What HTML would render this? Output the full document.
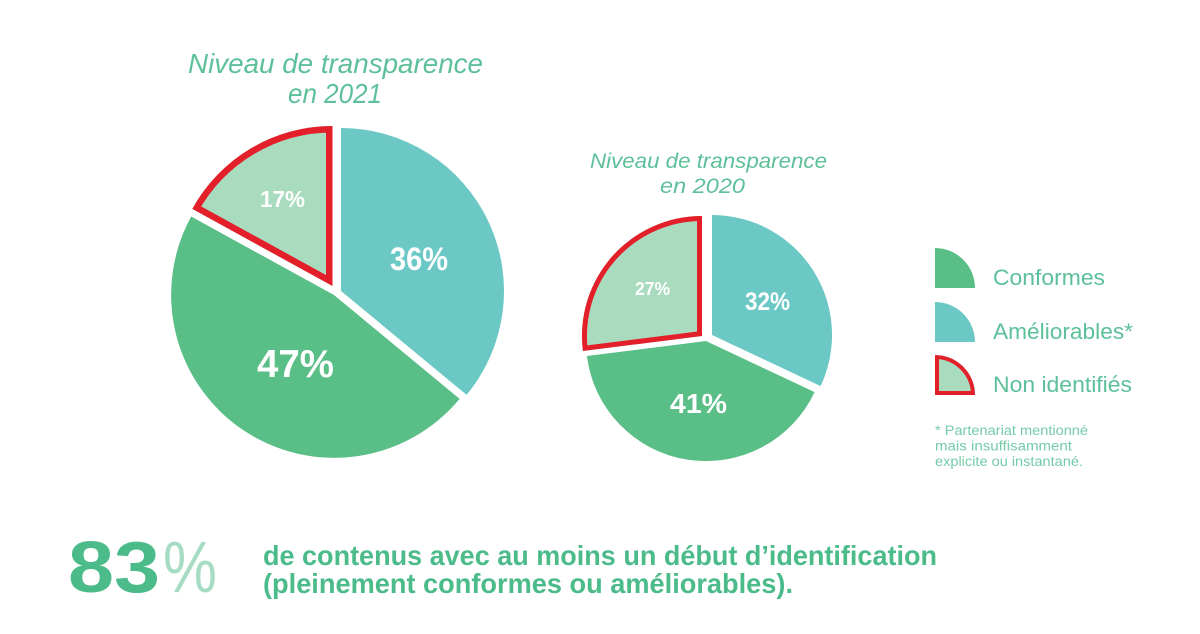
<!DOCTYPE html>
<html>
<head>
<meta charset="utf-8">
<style>
  html,body{margin:0;padding:0;background:#fff;}
  svg{display:block;}
  .t{font-family:"Liberation Sans",sans-serif;font-style:italic;fill:#5dc09a;}
  .p{font-family:"Liberation Sans Narrow","Liberation Sans",sans-serif;font-weight:bold;fill:#fff;}
  .lg{font-family:"Liberation Sans",sans-serif;fill:#5cc09a;}
  .fn{font-family:"Liberation Sans",sans-serif;fill:#74cba8;}
  .bt{font-family:"Liberation Sans Narrow","Liberation Sans",sans-serif;font-weight:bold;fill:#4cbb8a;}
</style>
</head>
<body>
<svg width="1200" height="634" viewBox="0 0 1200 634" xmlns="http://www.w3.org/2000/svg">
  <defs>
    <clipPath id="cRed1"><path d="M332.5,286 L192.3,208.9 A160,160 0 0 1 332.5,126 Z"/></clipPath>
    <clipPath id="cRed2"><path d="M702,336 L582.9,351 A120,120 0 0 1 702,216 Z"/></clipPath>
    <clipPath id="cRed3"><path d="M935,395 L935,355 A40,40 0 0 1 975,395 Z"/></clipPath>
  </defs>

  <!-- Titles -->
  <text class="t" x="188" y="73" font-size="28" textLength="295" lengthAdjust="spacingAndGlyphs">Niveau de transparence</text>
  <text class="t" x="288" y="103" font-size="28" textLength="94" lengthAdjust="spacingAndGlyphs">en 2021</text>
  <text class="t" x="590" y="168" font-size="21" textLength="237" lengthAdjust="spacingAndGlyphs">Niveau de transparence</text>
  <text class="t" x="660" y="193" font-size="21" textLength="85" lengthAdjust="spacingAndGlyphs">en 2020</text>

  <!-- Big pie 2021 -->
  <path d="M341,291 L341,128 A163,163 0 0 1 466.6,394.9 Z" fill="#6cc8c5"/>
  <path d="M334,295 L459.6,398.9 A163,163 0 0 1 191.2,216.5 Z" fill="#5abe87"/>
  <path d="M332.5,286 L192.3,208.9 A160,160 0 0 1 332.5,126 Z" fill="#a9dcbf"/>
  <path d="M332.5,286 L192.3,208.9 A160,160 0 0 1 332.5,126 Z" fill="none" stroke="#e3202a" stroke-width="13" clip-path="url(#cRed1)" stroke-linejoin="miter"/>

  <text class="p" x="390" y="270" font-size="32" textLength="58" lengthAdjust="spacingAndGlyphs">36%</text>
  <text class="p" x="257" y="377" font-size="39" textLength="77" lengthAdjust="spacingAndGlyphs">47%</text>
  <text class="p" x="260" y="207" font-size="23" textLength="45" lengthAdjust="spacingAndGlyphs">17%</text>

  <!-- Small pie 2020 -->
  <path d="M712,335 L712,215 A120,120 0 0 1 820.6,386.1 Z" fill="#6cc8c5"/>
  <path d="M706,341 L814.6,392.1 A120,120 0 0 1 586.9,356 Z" fill="#5abe87"/>
  <path d="M702,336 L582.9,351 A120,120 0 0 1 702,216 Z" fill="#a9dcbf"/>
  <path d="M702,336 L582.9,351 A120,120 0 0 1 702,216 Z" fill="none" stroke="#e3202a" stroke-width="10" clip-path="url(#cRed2)"/>

  <text class="p" x="745" y="310" font-size="25" textLength="45" lengthAdjust="spacingAndGlyphs">32%</text>
  <text class="p" x="670" y="413" font-size="28" textLength="57" lengthAdjust="spacingAndGlyphs">41%</text>
  <text class="p" x="635" y="295" font-size="18.5" textLength="35" lengthAdjust="spacingAndGlyphs">27%</text>

  <!-- Legend -->
  <path d="M935,288 L935,248 A40,40 0 0 1 975,288 Z" fill="#5abe87"/>
  <path d="M935,342 L935,302 A40,40 0 0 1 975,342 Z" fill="#6cc8c5"/>
  <path d="M935,395 L935,355 A40,40 0 0 1 975,395 Z" fill="#a9dcbf"/>
  <path d="M935,395 L935,355 A40,40 0 0 1 975,395 Z" fill="none" stroke="#e3202a" stroke-width="8" clip-path="url(#cRed3)"/>

  <text class="lg" x="993" y="285" font-size="22" textLength="112" lengthAdjust="spacingAndGlyphs">Conformes</text>
  <text class="lg" x="993" y="339" font-size="22" textLength="140" lengthAdjust="spacingAndGlyphs">Améliorables*</text>
  <text class="lg" x="993" y="392" font-size="22" textLength="139" lengthAdjust="spacingAndGlyphs">Non identifiés</text>

  <text class="fn" x="935" y="435" font-size="13.5" textLength="153" lengthAdjust="spacingAndGlyphs">* Partenariat mentionné</text>
  <text class="fn" x="935" y="450.5" font-size="13.5" textLength="137" lengthAdjust="spacingAndGlyphs">mais insuffisamment</text>
  <text class="fn" x="935" y="466" font-size="13.5" textLength="148" lengthAdjust="spacingAndGlyphs">explicite ou instantané.</text>

  <!-- Bottom statement -->
  <text x="68" y="592" font-size="72" font-family="Liberation Sans, sans-serif" font-weight="bold" fill="#4cbb8a" textLength="92" lengthAdjust="spacingAndGlyphs">83</text>
  <text x="163" y="592" font-size="72" font-family="Liberation Sans, sans-serif" fill="#a7dcc4" textLength="54" lengthAdjust="spacingAndGlyphs">%</text>

  <text class="bt" x="263" y="565" font-size="28" textLength="674" lengthAdjust="spacingAndGlyphs">de contenus avec au moins un début d’identification</text>
  <text class="bt" x="263" y="593" font-size="28" textLength="530" lengthAdjust="spacingAndGlyphs">(pleinement conformes ou améliorables).</text>
</svg>
</body>
</html>
